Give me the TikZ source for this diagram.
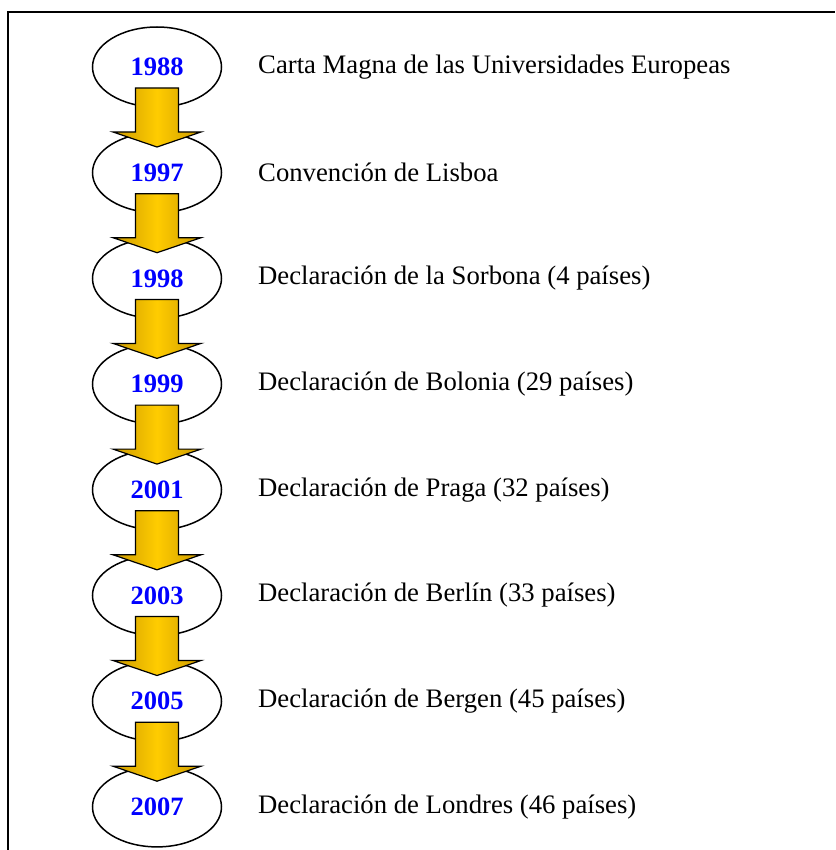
\documentclass[tikz,border=0pt]{standalone}
\usepackage{fontspec}
\setmainfont{Liberation Serif}
\usetikzlibrary{shapes.geometric,calc}
\definecolor{goldM}{RGB}{255,204,0}
\definecolor{goldL}{RGB}{205,155,0}
\definecolor{yearblue}{RGB}{0,0,255}
\tikzset{
  yearnode/.style={ellipse, draw=black, line width=1.5pt, fill=white,
    minimum width=129pt, minimum height=80pt, inner sep=0pt,
    text=yearblue, font=\fontsize{26.5}{30}\selectfont\bfseries},
  desc/.style={anchor=west, inner sep=0pt, text=black,
    font=\fontsize{26.7}{30}\selectfont},
  blockarrow/.style={draw=black, line width=1.2pt, left color=goldL, right color=goldL, middle color=goldM},
  frame/.style={line width=1.6pt, black}
}
\begin{document}
\begin{tikzpicture}[x=1pt,y=-1pt]
\useasboundingbox (0,0) rectangle (835,850);
\coordinate (c0) at (8,850);
\coordinate (c1) at (8,12);
\coordinate (c2) at (835,12);
\draw[frame] (c0) -- (c1) -- (c2);
\foreach \i/\yr/\txt in {0/1988/Carta Magna de las Universidades Europeas,
  1/1997/Convención de Lisboa,
  2/1998/Declaración de la Sorbona (4 países),
  3/1999/Declaración de Bolonia (29 países),
  4/2001/Declaración de Praga (32 países),
  5/2003/Declaración de Berlín (33 países),
  6/2005/Declaración de Bergen (45 países),
  7/2007/Declaración de Londres (46 países)}{
  \node[yearnode] (e\i) at (157,{67+\i*105.7}) {\yr};
  \node[desc] (d\i) at (258,{67+\i*105.7}) {\txt};
}
\foreach \i in {0,...,6}{
  \draw[blockarrow]
    ($(e\i.center)+(-21.5,21)$) -- ($(e\i.center)+(21.5,21)$)
    -- ($(e\i.center)+(21.5,65)$) -- ($(e\i.center)+(44,65)$)
    -- ($(e\i.center)+(0,80)$) -- ($(e\i.center)+(-44,65)$)
    -- ($(e\i.center)+(-21.5,65)$) -- cycle;
}
\end{tikzpicture}
\end{document}
